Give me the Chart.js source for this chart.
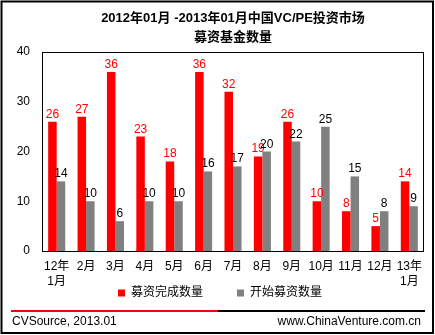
<!DOCTYPE html>
<html><head><meta charset="utf-8">
<script src="https://cdn.jsdelivr.net/npm/chart.js@4.4.0/dist/chart.umd.min.js"></script>
<style>html,body{margin:0;padding:0;background:#fff;}canvas{display:block}</style>
</head><body>
<canvas id="c" width="435" height="335"></canvas>
<script>
const categories = [["12年","1月"],"2月","3月","4月","5月","6月","7月","8月","9月","10月","11月","12月",["13年","1月"]];
const completedFunds = [26,27,36,23,18,36,32,19,26,10,8,5,14];
const startedFunds = [14,10,6,10,10,16,17,20,22,25,15,8,9];
const yTicks = [0,10,20,30,40];
const titleLines = ["2012年01月 -2013年01月中国VC/PE投资市场","募资基金数量"];
const seriesNames = ["募资完成数量","开始募资数量"];
const sourceText = "CVSource, 2013.01";
const siteText = "www.ChinaVenture.com.cn";

const FAMILY = '"Liberation Sans", Arial, "Noto Sans CJK SC", sans-serif';
const seriesColors = ['#FF0000', '#808080'];
const labelColors = ['#FF0000', '#000000'];

const valueLabels = {
  id: 'valueLabels',
  afterDatasetsDraw(chart) {
    const ctx = chart.ctx;
    ctx.save();
    ctx.font = '12px ' + FAMILY;
    ctx.textAlign = 'center';
    ctx.textBaseline = 'alphabetic';
    chart.data.datasets.forEach((ds, i) => {
      const meta = chart.getDatasetMeta(i);
      meta.data.forEach((bar, j) => {
        ctx.fillStyle = labelColors[i];
        ctx.fillText(String(ds.data[j]), bar.x, bar.y - 4);
      });
    });
    ctx.restore();
  }
};

const frame = {
  id: 'frame',
  beforeDraw(chart) {
    const ctx = chart.ctx;
    ctx.save();
    ctx.fillStyle = '#fff';
    ctx.fillRect(0, 0, chart.width, chart.height);
    ctx.restore();
  },
  afterDraw(chart) {
    const ctx = chart.ctx;
    const a = chart.chartArea;
    ctx.save();
    ctx.strokeStyle = '#000';
    ctx.lineWidth = 1;
    ctx.strokeRect(Math.round(a.left) + 0.5, Math.round(a.top) + 0.5, Math.round(a.right - a.left) - 1, Math.round(a.bottom - a.top));
    // footer rule
    ctx.lineWidth = 2;
    ctx.strokeStyle = '#FF0000';
    ctx.beginPath(); ctx.moveTo(11, 311); ctx.lineTo(218, 311); ctx.stroke();
    ctx.strokeStyle = '#000';
    ctx.beginPath(); ctx.moveTo(218, 311); ctx.lineTo(425, 311); ctx.stroke();
    // footer text
    ctx.fillStyle = '#000';
    ctx.font = '12px ' + FAMILY;
    ctx.textBaseline = 'middle';
    ctx.textAlign = 'left';
    ctx.fillText(sourceText, 12, 322);
    ctx.textAlign = 'right';
    ctx.fillText(siteText, 421, 322);
    // outer border
    ctx.lineWidth = 2;
    ctx.strokeRect(1.5, 1.5, 431.5, 331.5);
    ctx.restore();
  }
};

new Chart(document.getElementById('c'), {
  type: 'bar',
  data: {
    labels: categories,
    datasets: [
      { label: seriesNames[0], data: completedFunds, backgroundColor: seriesColors[0], borderWidth: 0, categoryPercentage: 0.58, barPercentage: 1 },
      { label: seriesNames[1], data: startedFunds, backgroundColor: seriesColors[1], borderWidth: 0, categoryPercentage: 0.58, barPercentage: 1 }
    ]
  },
  options: {
    responsive: false,
    devicePixelRatio: 1,
    animation: false,
    layout: { padding: { left: 16, right: 11, top: 0, bottom: 26 } },
    scales: {
      x: {
        grid: { display: false, drawTicks: false },
        border: { display: false },
        ticks: { color: '#000', mirror: true, padding: -23.5, maxRotation: 0, autoSkip: false, font: { family: FAMILY, size: 12, lineHeight: 1.25 } },
        afterFit(scale) { scale.height = 2; }
      },
      y: {
        min: 0, max: 40,
        afterBuildTicks(scale) { scale.ticks = yTicks.map(v => ({ value: v })); },
        grid: { display: false, drawTicks: false },
        border: { display: false },
        ticks: { color: '#000', padding: 12, font: { family: FAMILY, size: 12 } },
        afterFit(scale) { scale.width = 26; }
      }
    },
    plugins: {
      title: {
        display: true,
        text: titleLines,
        fullSize: false,
        color: '#000',
        font: { family: FAMILY, size: 13, weight: 'bold', lineHeight: '19px' },
        padding: { top: 8.5, bottom: 5.5 }
      },
      legend: {
        display: true,
        position: 'bottom',
        labels: { color: '#000', boxWidth: 7, boxHeight: 7, padding: 34, font: { family: FAMILY, size: 12 } }
      },
      tooltip: { enabled: false }
    }
  },
  plugins: [frame, valueLabels]
});
</script>
</body></html>
